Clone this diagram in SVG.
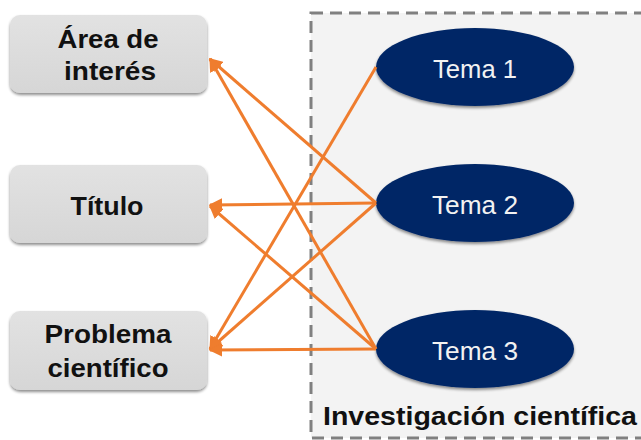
<svg xmlns="http://www.w3.org/2000/svg" width="641" height="440" viewBox="0 0 641 440">
<style>
.box{fill:url(#gb);}
.bt{font-family:"Liberation Sans",Arial,sans-serif;font-weight:bold;font-size:25px;fill:#111;text-anchor:middle;}
.el{fill:#062766;}
.et{font-family:"Liberation Sans",Arial,sans-serif;font-size:26px;fill:#f2f2f2;text-anchor:middle;}
.ln{stroke:#ef7d2e;stroke-width:3;fill:none;marker-end:url(#ah);}
</style>
<defs>
<linearGradient id="gb" x1="0" y1="0" x2="0" y2="1">
<stop offset="0" stop-color="#e2e2e2"/>
<stop offset="1" stop-color="#d6d6d6"/>
</linearGradient>
<filter id="sh" x="-10%" y="-10%" width="120%" height="130%">
<feGaussianBlur in="SourceAlpha" stdDeviation="1.5"/>
<feOffset dx="0" dy="2" result="b"/>
<feComponentTransfer><feFuncA type="linear" slope="0.45"/></feComponentTransfer>
<feMerge><feMergeNode/><feMergeNode in="SourceGraphic"/></feMerge>
</filter>
<marker id="ah" viewBox="0 0 10 10" refX="9" refY="5" markerWidth="4.5" markerHeight="4.5" orient="auto" markerUnits="strokeWidth">
<path d="M0,0 L10,5 L0,10 z" fill="#ef7d2e"/>
</marker>
</defs>
<rect width="641" height="440" fill="#ffffff"/>
<g id="investigacion">
<rect x="311" y="13" width="345" height="425" fill="#f3f3f3" stroke="#808080" stroke-width="3" stroke-dasharray="12,7"/>
<text x="480" y="425" class="bt" font-size="25" textLength="314" lengthAdjust="spacingAndGlyphs">Investigación científica</text>
</g>
<g id="area">
<rect x="10" y="15" width="197" height="78" rx="10" class="box" filter="url(#sh)"/>
<text x="108" y="48" class="bt" textLength="101" lengthAdjust="spacingAndGlyphs">Área de</text>
<text x="110" y="80" class="bt" textLength="92" lengthAdjust="spacingAndGlyphs">interés</text>
</g>
<g id="titulo">
<rect x="10" y="165" width="197" height="78" rx="10" class="box" filter="url(#sh)"/>
<text x="107" y="215" class="bt" textLength="73" lengthAdjust="spacingAndGlyphs">Título</text>
</g>
<g id="problema">
<rect x="10" y="311" width="197" height="79" rx="10" class="box" filter="url(#sh)"/>
<text x="108" y="343" class="bt" textLength="127" lengthAdjust="spacingAndGlyphs">Problema</text>
<text x="108" y="377" class="bt" textLength="121" lengthAdjust="spacingAndGlyphs">científico</text>
</g>
<g id="tema1">
<ellipse cx="475" cy="67" rx="99" ry="39" class="el" filter="url(#sh)"/>
<text x="475" y="78" class="et" textLength="84" lengthAdjust="spacingAndGlyphs">Tema 1</text>
</g>
<g id="tema2">
<ellipse cx="475" cy="203" rx="99" ry="39" class="el" filter="url(#sh)"/>
<text x="475" y="214" class="et" textLength="86" lengthAdjust="spacingAndGlyphs">Tema 2</text>
</g>
<g id="tema3">
<ellipse cx="475" cy="349" rx="99" ry="39" class="el" filter="url(#sh)"/>
<text x="475" y="360" class="et" textLength="86" lengthAdjust="spacingAndGlyphs">Tema 3</text>
</g>
<g id="connectors">
<line x1="376" y1="67" x2="210" y2="349" class="ln"/>
<line x1="376" y1="203" x2="210" y2="59" class="ln"/>
<line x1="376" y1="203" x2="210" y2="205" class="ln"/>
<line x1="376" y1="203" x2="210" y2="349" class="ln"/>
<line x1="376" y1="349" x2="210" y2="59" class="ln"/>
<line x1="376" y1="349" x2="210" y2="206" class="ln"/>
<line x1="376" y1="349" x2="210" y2="350" class="ln"/>
</g>
</svg>
